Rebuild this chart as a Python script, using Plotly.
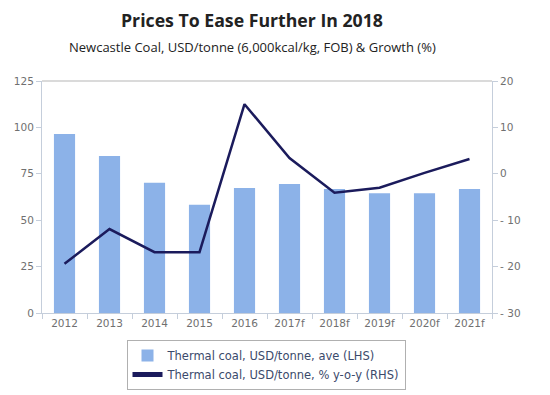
import plotly.graph_objects as go

years = ["2012", "2013", "2014", "2015", "2016", "2017f", "2018f", "2019f", "2020f", "2021f"]
price = [96.4, 84.6, 70.2, 58.3, 67.3, 69.5, 66.8, 64.5, 64.5, 66.8]
growth = [-19.4, -11.9, -16.9, -16.9, 15.0, 3.4, -4.1, -3.0, 0.2, 3.2]
rhs_ticks = [20, 10, 0, -10, -20, -30]
rhs_labels = ["20", "10", "0", "- 10", "- 20", "- 30"]

TFONT = "Open Sans"
AFONT = "DejaVu Sans"
AXC = "#c5cedb"
TICKC = "#707070"

# page body has an 8px margin, so the figure is shifted by (8, 8)
L, T, PW, PH = 34, 73, 450, 232
W, H = 550, 395
BOT = T + PH

def px(x):
    return (x - 8 - L) / PW

def py(y):
    return (BOT - (y - 8)) / PH

fig = go.Figure()
fig.add_trace(go.Bar(
    x=years, y=price, name="Thermal coal, USD/tonne, ave (LHS)",
    marker=dict(color="#8cb2e8", line=dict(width=0)), yaxis="y",
))
fig.add_trace(go.Scatter(
    x=years, y=growth, name="Thermal coal, USD/tonne, % y-o-y (RHS)",
    mode="lines", line=dict(color="#1b1b5c", width=2.5), yaxis="y2",
))

fig.update_layout(
    width=W, height=H,
    margin=dict(l=L, r=W - L - PW, t=T, b=H - BOT, autoexpand=False),
    paper_bgcolor="white", plot_bgcolor="white",
    font=dict(family=AFONT, size=10.5, color=TICKC),
    bargap=0.53,
    showlegend=True,
    xaxis=dict(
        showline=True, linecolor=AXC, linewidth=1,
        ticks="outside", tickson="boundaries", ticklen=5, tickcolor=AXC,
        showgrid=False, tickfont=dict(size=10.5, color=TICKC),
    ),
    yaxis=dict(
        range=[0, 125], dtick=25, showgrid=False,
        showline=True, linecolor=AXC, linewidth=1,
        ticks="outside", ticklen=5, tickcolor=AXC, zeroline=False,
        tickfont=dict(size=10.5, color=TICKC),
    ),
    yaxis2=dict(
        range=[-30, 20], tickvals=rhs_ticks, ticktext=rhs_labels,
        overlaying="y", side="right", showgrid=False,
        showline=True, linecolor=AXC, linewidth=1,
        ticks="outside", ticklen=5, tickcolor=AXC, zeroline=False,
        tickfont=dict(size=10.5, color=TICKC),
    ),
    legend=dict(
        x=px(266), xanchor="center", y=py(340), yanchor="top",
        bordercolor="#b0b0b0", borderwidth=1, bgcolor="white",
        font=dict(family=AFONT, size=11.5, color="#3b4a6b"),
        tracegroupgap=0, itemsizing="constant", itemwidth=30,
    ),
    annotations=[
        dict(text="<b>Prices To Ease Further In 2018</b>", xref="paper", yref="paper",
             x=px(252), xanchor="center", y=py(20), yanchor="middle",
             showarrow=False, font=dict(family=TFONT, size=17.7, color="#222")),
        dict(text="Newcastle Coal, USD/tonne (6,000kcal/kg, FOB) &amp; Growth (%)",
             xref="paper", yref="paper",
             x=px(252), xanchor="center", y=py(47), yanchor="middle",
             showarrow=False, font=dict(family=TFONT, size=13, color="#222")),
    ],
    shapes=[dict(type="line", xref="paper", yref="paper", x0=0, x1=1, y0=1, y1=1,
                 line=dict(color="#b5b5b5", width=1))],
)

fig.write_html("out.html")
